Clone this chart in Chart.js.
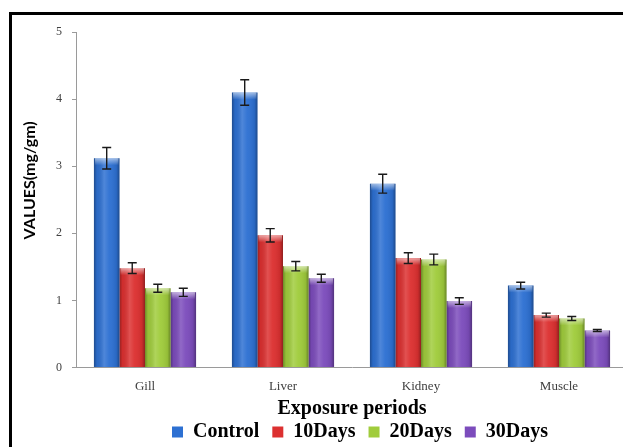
<!DOCTYPE html>
<html>
<head>
<meta charset="utf-8">
<script src="https://cdn.jsdelivr.net/npm/chart.js@4.4.1/dist/chart.umd.min.js"></script>
<style>
  html, body { margin: 0; padding: 0; background: #fff; overflow: hidden; width: 623px; height: 447px; }
  #frame { position: absolute; left: 9px; top: 12px; width: 720px; height: 470px; border: 3px solid #000; background: #fff; }
  #wrap { position: absolute; left: 0; top: 0; width: 696px; height: 439px; }
</style>
</head>
<body>
<div id="frame"><div id="wrap"><canvas id="c1"></canvas></div></div>
<script>
// tissues and exposure groups
const categories = ['Gill', 'Liver', 'Kidney', 'Muscle'];
const seriesNames = ['Control', '10Days', '20Days', '30Days'];

// mean values (mg/gm)
const control = [3.12, 4.10, 2.74, 1.22];
const days10  = [1.48, 1.97, 1.63, 0.78];
const days20  = [1.18, 1.51, 1.61, 0.73];
const days30  = [1.12, 1.33, 0.99, 0.55];

// standard error
const controlErr = [0.16, 0.19, 0.14, 0.05];
const days10Err  = [0.08, 0.10, 0.08, 0.03];
const days20Err  = [0.06, 0.07, 0.08, 0.03];
const days30Err  = [0.06, 0.06, 0.05, 0.015];

const yTicks = [0, 1, 2, 3, 4, 5];
const yTitle = 'VALUES(mg/gm)';

const C = { blue: '#2d70d2', red: '#dc3030', green: '#a0cc3c', purple: '#7c4cbc' };

const serif = "'Liberation Serif', 'Times New Roman', serif";

// shading on each bar: darker edges, light centre, light bevel on top
const barShade = {
  id: 'barShade',
  afterDatasetDraw(chart, args) {
    const ctx = chart.ctx;
    args.meta.data.forEach(el => {
      const { x, y, base, width } = el.getProps(['x', 'y', 'base', 'width'], true);
      const left = x - width / 2;
      const h = base - y;
      ctx.save();
      const g = ctx.createLinearGradient(left, 0, left + width, 0);
      g.addColorStop(0, 'rgba(0,0,0,0.32)');
      g.addColorStop(0.12, 'rgba(0,0,0,0.06)');
      g.addColorStop(0.4, 'rgba(255,255,255,0.16)');
      g.addColorStop(0.6, 'rgba(255,255,255,0.04)');
      g.addColorStop(0.88, 'rgba(0,0,0,0.08)');
      g.addColorStop(1, 'rgba(0,0,0,0.34)');
      ctx.fillStyle = g;
      ctx.fillRect(left, y, width, h);
      const t = ctx.createLinearGradient(0, y, 0, y + 7);
      t.addColorStop(0, 'rgba(255,255,255,0.55)');
      t.addColorStop(1, 'rgba(255,255,255,0)');
      ctx.fillStyle = t;
      ctx.fillRect(left + 1, y, width - 2, Math.min(7, h));
      ctx.restore();
    });
  }
};

// error bars from the err arrays
const errorBars = {
  id: 'errorBars',
  afterDatasetsDraw(chart) {
    const ctx = chart.ctx;
    const yScale = chart.scales.y;
    ctx.save();
    ctx.strokeStyle = '#1a1a1a';
    ctx.lineWidth = 1.4;
    chart.data.datasets.forEach((ds, di) => {
      const meta = chart.getDatasetMeta(di);
      meta.data.forEach((el, i) => {
        const v = ds.data[i], e = ds.err[i];
        const yt = yScale.getPixelForValue(v + e);
        const yb = yScale.getPixelForValue(v - e);
        const cx = el.x, cap = 4.5;
        ctx.beginPath();
        ctx.moveTo(cx, yt); ctx.lineTo(cx, yb);
        ctx.moveTo(cx - cap, yt); ctx.lineTo(cx + cap, yt);
        ctx.moveTo(cx - cap, yb); ctx.lineTo(cx + cap, yb);
        ctx.stroke();
      });
    });
    ctx.restore();
  }
};

// vertical value-axis title, sits a little above the middle of the axis
const yTitlePlugin = {
  id: 'yTitle',
  afterDraw(chart) {
    const { ctx, chartArea: a } = chart;
    ctx.save();
    ctx.translate(a.left - 46, a.top + (a.bottom - a.top) * 0.442);
    ctx.rotate(-Math.PI / 2);
    ctx.font = "bold 16px Lato, 'Open Sans', sans-serif";
    ctx.fillStyle = '#000';
    ctx.textAlign = 'center';
    ctx.textBaseline = 'middle';
    ctx.fillText(yTitle, 0, 0);
    ctx.restore();
  }
};

const barDs = (label, data, err, color) => ({
  label, data, err, backgroundColor: color, borderWidth: 0,
  categoryPercentage: 0.74, barPercentage: 1.0
});

new Chart(document.getElementById('c1'), {
  type: 'bar',
  data: {
    labels: categories,
    datasets: [
      barDs(seriesNames[0], control, controlErr, C.blue),
      barDs(seriesNames[1], days10, days10Err, C.red),
      barDs(seriesNames[2], days20, days20Err, C.green),
      barDs(seriesNames[3], days30, days30Err, C.purple)
    ]
  },
  options: {
    responsive: true, maintainAspectRatio: false, animation: false,
    layout: { padding: { left: 34, right: 34, top: 17, bottom: 2 } },
    plugins: {
      tooltip: { enabled: false },
      legend: {
        position: 'bottom',
        labels: { color: '#000', font: { family: serif, size: 20, weight: 'bold' }, boxWidth: 11, boxHeight: 11, padding: 13 }
      }
    },
    scales: {
      x: {
        grid: { display: false, drawTicks: false },
        border: { color: '#9a9a9a', width: 1 },
        ticks: { color: '#404040', font: { family: serif, size: 13 }, padding: 11 },
        title: { display: true, text: 'Exposure periods', color: '#000', font: { family: serif, size: 20, weight: 'bold' }, padding: { top: -8, bottom: -12 } }
      },
      y: {
        min: 0, max: 5,
        afterBuildTicks: s => { s.ticks = yTicks.map(v => ({ value: v })); },
        grid: { display: true, drawOnChartArea: false, drawTicks: true, tickLength: 4, color: '#9a9a9a' },
        border: { color: '#9a9a9a', width: 1 },
        ticks: { color: '#404040', font: { family: serif, size: 12 }, padding: 10 }
      },
      // empty spacer on the right so the plot runs past the frame edge
      yR: {
        position: 'right', min: 0, max: 5,
        grid: { display: false }, border: { display: false }, ticks: { display: false },
        afterFit: s => { s.width = 46; }
      }
    }
  },
  plugins: [barShade, errorBars, yTitlePlugin]
});
</script>
</body>
</html>
